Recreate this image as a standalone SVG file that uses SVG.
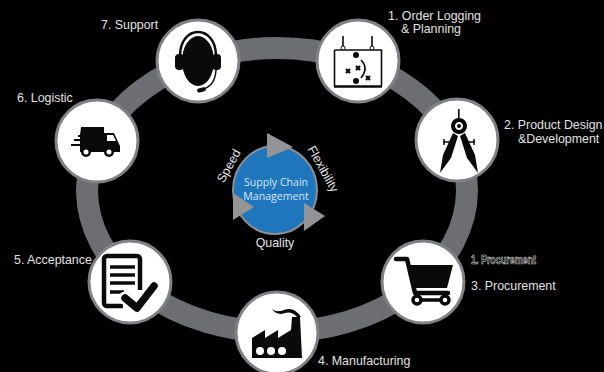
<svg xmlns="http://www.w3.org/2000/svg" width="604" height="372" viewBox="0 0 604 372">
<style>
.l{font:12.4px "Liberation Sans",Arial,sans-serif;fill:#e2e2e2}
.c{font:10.6px "Open Sans",sans-serif;fill:#d5e6f5;text-anchor:middle}
.disc{fill:#fff;stroke:#808184;stroke-width:3}
.i{fill:#0a0a0a}
.s{fill:none;stroke:#0a0a0a}
.t{fill:#949496}
</style>
<rect width="604" height="372" fill="#000"/>
<g id="connectors"><ellipse cx="277" cy="190" rx="190" ry="142" fill="none" stroke="#6d6e71" stroke-width="22"/></g>
<g id="hub">
<ellipse cx="275" cy="190" rx="42" ry="44" fill="#1f76bd" stroke="#8d8f92" stroke-width="2"/>
<polygon class="t" points="267,133 267,158 293,147"/>
<polygon class="t" points="304,203 304,231 325,216"/>
<polygon class="t" points="233,193 233,220 254,207"/>
<text class="c" x="276" y="186">Supply Chain</text>
<text class="c" x="276" y="200">Management</text>
<text class="l" transform="translate(229,166) rotate(-61)" text-anchor="middle" x="0" y="4">Speed</text>
<text class="l" transform="translate(323,169) rotate(61)" text-anchor="middle" x="0" y="4">Flexibility</text>
<text class="l" x="275" y="247" text-anchor="middle">Quality</text>
</g>
<g id="node1"><circle class="disc" cx="358" cy="61" r="41"/>
<path class="s" d="M334.500,50H381.500V86M334.500,50V86" stroke-width="1.600"/><path class="s" d="M334,86.500H382" stroke-width="2.400"/>
<path class="s" d="M343,47V36M372,47V36" stroke-width="1.600"/><circle cx="343" cy="48" r="2" fill="#fff" stroke="#0a0a0a"/><circle cx="372" cy="48" r="2" fill="#fff" stroke="#0a0a0a"/>
<circle class="i" cx="356" cy="55" r="3"/><circle class="i" cx="356" cy="81" r="3"/>
<path class="s" d="M361,60Q369,68 361,78" stroke-width="1.600"/>
<path class="s" d="M346,69l4,4m0,-4l-4,4M356,66l4,4m0,-4l-4,4M366,76l4,4m0,-4l-4,4" stroke-width="2.200"/>
<text class="l" x="388" y="20">1. Order Logging</text><text class="l" x="401" y="33">&amp; Planning</text></g>
<g id="node2"><circle class="disc" cx="457" cy="140" r="41"/>
<path class="i" d="M458,109h1.600v10h-1.600ZM459,118a8,8 0 1 1-.01,0ZM459,122a4,4 0 1 0 .01,0ZM453,133l5,3 -7,22 -11,15 3,-18ZM465,133l-5,3 7,22 11,15 -3,-18Z"/>
<circle class="i" cx="459" cy="126" r="2"/>
<path class="s" d="M443,142h7M468,142h7M444,139v6M474,139v6" stroke-width="1.500"/>
<text class="l" x="504" y="129">2. Product Design</text><text class="l" x="518" y="143">&amp;Development</text></g>
<g id="node3"><circle class="disc" cx="423" cy="282" r="41"/>
<path class="s" d="M396,259h11l8,34h33" stroke-width="4.500" stroke-linecap="round" stroke-linejoin="round"/>
<path class="i" d="M408,265H453L447,288H413Z"/>
<path class="s" d="M417,300H445" stroke-width="3.500"/>
<circle cx="417" cy="300" r="4" fill="#fff" stroke="#0a0a0a" stroke-width="3.500"/><circle cx="445" cy="300" r="4" fill="#fff" stroke="#0a0a0a" stroke-width="3.500"/>
<text x="471" y="264" textLength="65" lengthAdjust="spacingAndGlyphs" style="font:bold 12px 'Liberation Sans',sans-serif;fill:#000;stroke:#ddd;stroke-width:.6">1. Procurement</text>
<text class="l" x="471" y="290">3. Procurement</text></g>
<g id="node4"><circle class="disc" cx="277" cy="333" r="41"/>
<path class="i" d="M292,317H300L302,358H252V338L265,330V338L278,330V338L291,330Z"/>
<path class="i" d="M272,309Q277,313 284,310Q294,306 301,317H297Q292,311 285,313Q277,316 272,309Z"/>
<circle cx="260" cy="351" r="4" fill="#fff"/><circle cx="271" cy="351" r="4" fill="#fff"/><circle cx="282" cy="351" r="4" fill="#fff"/>
<text class="l" x="318" y="365">4. Manufacturing</text></g>
<g id="node5"><circle class="disc" cx="130" cy="282" r="41"/>
<path class="s" d="M123,306H107a3,3 0 0 1-3,-3V259a3,3 0 0 1 3,-3H137a3,3 0 0 1 3,3V290" stroke-width="4.500"/>
<path class="s" d="M110,267H135M110,275H135M110,283H135M110,292H124" stroke-width="3.500"/>
<path d="M125,298L137,308L154,286" fill="none" stroke="#fff" stroke-width="13" stroke-linecap="round" stroke-linejoin="round"/>
<path class="s" d="M125,298L137,308L154,286" stroke-width="7.500" stroke-linecap="round" stroke-linejoin="round"/>
<text class="l" x="14" y="264">5. Acceptance</text></g>
<g id="node6"><circle class="disc" cx="97" cy="141" r="41"/>
<path class="i" d="M81,127H104V133H114L120,146V152H80V146H71V144H80V141H74V139H80V137H78V135H80Z"/>
<path d="M107,135H113L116,141H107Z" fill="#fff"/>
<circle cx="86" cy="152" r="5" class="i"/><circle cx="109" cy="152" r="5" class="i"/><circle cx="86" cy="152" r="2.500" fill="#fff"/><circle cx="109" cy="152" r="2.500" fill="#fff"/>
<text class="l" x="17" y="102">6. Logistic</text></g>
<g id="node7"><circle class="disc" cx="198" cy="61" r="41"/>
<ellipse class="i" cx="198" cy="61" rx="16" ry="25"/>
<path class="s" d="M180,56C180,24 216,24 216,56" stroke-width="2.500"/>
<rect class="i" x="175" y="54" width="9" height="16" rx="4"/><rect class="i" x="212" y="54" width="9" height="16" rx="4"/>
<path class="s" d="M216,70Q215,86 203,89" stroke-width="1.500"/><rect class="i" x="197" y="88" width="9" height="4" rx="2" transform="rotate(-15 201 90)"/>
<text class="l" x="101" y="29">7. Support</text></g>
</svg>
